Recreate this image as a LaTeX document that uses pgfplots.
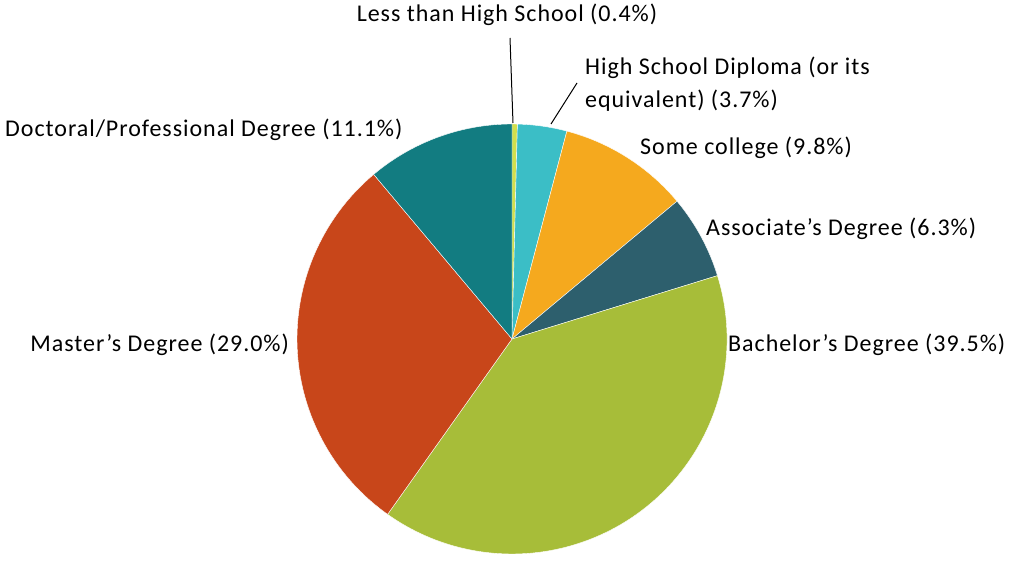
\documentclass[border=0pt]{standalone}
\usepackage{pgfplots}
\usepackage{pgfplotstable}
\pgfplotsset{compat=1.18}
\usepackage{fontspec}
\setmainfont{Carlito}[LetterSpace=4]
\definecolor{cLess}{HTML}{D2DF4C}
\definecolor{cHS}{HTML}{3BBEC6}
\definecolor{cSome}{HTML}{F5A91E}
\definecolor{cAssoc}{HTML}{2D5F6D}
\definecolor{cBach}{HTML}{A7BD39}
\definecolor{cMast}{HTML}{C8461A}
\definecolor{cDoc}{HTML}{127C81}
\newcommand\lf{\fontsize{24}{28}\selectfont}
\tikzset{lbl/.style={font=\lf, inner sep=0pt, text=black}}
\pgfplotstableread{
value color
0.4 cLess
3.7 cHS
9.8 cSome
6.3 cAssoc
39.5 cBach
29.0 cMast
11.1 cDoc
}\piedata
\begin{document}
\begin{tikzpicture}
\begin{axis}[
  width=1013pt, height=559pt, scale only axis,
  xmin=0, xmax=1013, ymin=0, ymax=559,
  hide axis, clip=false,
]
\path[draw=none] (axis cs:0,0) rectangle (axis cs:1013,559);
\def\cx{512}\def\cy{220}\def\R{215}
\def\total{99.8}
\pgfmathsetmacro{\startang}{90}
\pgfplotsforeachungrouped \i in {0,...,6}{%
  \pgfplotstablegetelem{\i}{value}\of\piedata
  \let\val\pgfplotsretval
  \pgfplotstablegetelem{\i}{color}\of\piedata
  \let\col\pgfplotsretval
  \pgfmathsetmacro{\endang}{\startang-\val*360/\total}
  \pgfmathsetmacro{\xa}{\cx+\R*cos(\startang)}
  \pgfmathsetmacro{\ya}{\cy+\R*sin(\startang)}
  \edef\cmd{\noexpand\filldraw[fill=\col, draw=white, line width=0.4pt]
    (axis cs:\cx,\cy) -- (axis cs:\xa,\ya)
    arc[start angle=\startang, end angle=\endang, radius=\R pt] -- cycle;}
  \cmd
  \global\let\startang\endang
}
% leader lines
\draw[black, line width=1pt] (axis cs:510,521) -- (axis cs:513,436);
\draw[black, line width=1pt] (axis cs:577,476) -- (axis cs:551,435);
% labels
\node[lbl, anchor=center] at (axis cs:507,544) {Less than High School (0.4\%)};
\node[lbl, anchor=west] at (axis cs:585,491) {High School Diploma (or its};
\node[lbl, anchor=west] at (axis cs:585,458) {equivalent) (3.7\%)};
\node[lbl, anchor=west] at (axis cs:640,411) {Some college (9.8\%)};
\node[lbl, anchor=west] at (axis cs:706,330) {Associate’s Degree (6.3\%)};
\node[lbl, anchor=west] at (axis cs:728,214) {Bachelor’s Degree (39.5\%)};
\node[lbl, anchor=east] at (axis cs:289,214) {Master’s Degree (29.0\%)};
\node[lbl, anchor=west] at (axis cs:5,429) {Doctoral/Professional Degree (11.1\%)};
\end{axis}
\end{tikzpicture}
\end{document}
